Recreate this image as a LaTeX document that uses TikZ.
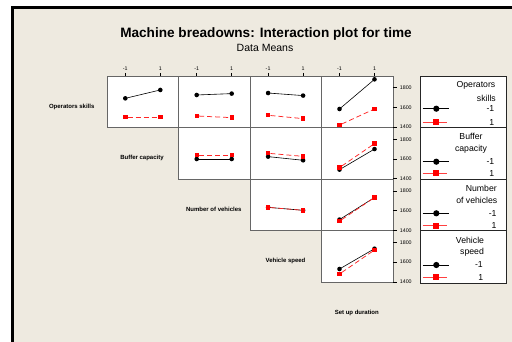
\documentclass[tikz,border=0pt]{standalone}
\usepackage{fontspec}
\setmainfont{Liberation Sans}
\definecolor{minibg}{HTML}{EEEAE0}

\tikzset{
	panel/.style={draw=black!60, line width=0.6pt, fill=white},
	legbox/.style={draw=black!85, line width=0.7pt, fill=white},
	lowlvl/.style={black, line width=0.6pt},
	highlvl/.style={red!85, line width=0.75pt, dash pattern=on 5pt off 3pt},
	dotmark/.style={circle, fill=black, inner sep=0pt, minimum size=4.6pt},
	sqmark/.style={rectangle, fill=red, inner sep=0pt, minimum size=4.4pt},
	rowlab/.style={font=\fontsize{6}{7}\selectfont\bfseries},
	ticklab/.style={font=\fontsize{5.3}{6}\selectfont},
	legtxt/.style={font=\fontsize{8.7}{10}\selectfont, inner sep=0pt},
}

\begin{document}
\begin{tikzpicture}[x=1pt,y=-1pt]
			\useasboundingbox (0,0) rectangle (512,342);
			\fill [minibg] (11,5.7) rectangle (512,342);
			\draw [line width=3pt] (12.5,342) -- (12.5,7.2) -- (512,7.2);
			% titles
			\node [anchor=base, font=\fontsize{13.6}{15}\selectfont\bfseries] (title) at (266,37.2) {Machine breadowns: Interaction plot for time};
			\node [anchor=base, font=\fontsize{10.5}{12}\selectfont] (subtitle) at (265,51.6) {Data Means};
			% panels
			\foreach \r in {1,...,4}
				\foreach \c in {\r,...,4}
					\draw [panel] ({107.3+71.4*(\c-1)},{76+51.6*(\r-1)}) rectangle ++(71.4,51.6);
			% top ticks
			\foreach \c in {1,...,4} {
				\draw [black, line width=0.6pt] ({107.3+71.4*(\c-1)+18},72.8) -- ++(0,3.2);
				\draw [black, line width=0.6pt] ({107.3+71.4*(\c-1)+53},72.8) -- ++(0,3.2);
				\node [ticklab] (tkm\c) at ({107.3+71.4*(\c-1)+18},68.3) {-1};
				\node [ticklab] (tkp\c) at ({107.3+71.4*(\c-1)+53},68.3) {1};
			}
			% right axis
			\foreach \r in {1,...,4}
				\foreach \v in {1400,1600,1800} {
					\draw [black, line width=0.6pt] (393,{76+51.6*\r-0.6-(\v-1400)*0.0985}) -- ++(3.5,0);
					\node [ticklab] (ax\r\v) at (405.8,{76+51.6*\r-0.6-(\v-1400)*0.0985}) {\v};
				}
			% interaction means
			\foreach \r/\c/\ba/\bb/\ra/\rb in {1/1/1691/1776/1502/1502, 1/2/1725/1739/1512/1495, 1/3/1745/1719/1519/1485, 1/4/1583/1884/1420/1583,
					2/2/1599/1599/1640/1640, 2/3/1623/1586/1657/1626, 2/4/1491/1700/1512/1755,
					3/3/1632/1602/1632/1602, 3/4/1508/1732/1492/1732,
					4/4/1530/1736/1479/1723} {
				\pgfmathsetmacro{\xa}{107.3+71.4*(\c-1)+18}
				\pgfmathsetmacro{\xb}{\xa+35}
				\pgfmathsetmacro{\yo}{76+51.6*\r-0.6}
				\node [dotmark] (blk\r\c a) at (\xa,{\yo-(\ba-1400)*0.0985}) {};
				\node [dotmark] (blk\r\c b) at (\xb,{\yo-(\bb-1400)*0.0985}) {};
				\draw [lowlvl] (blk\r\c a.center) -- (blk\r\c b.center);
				\node [sqmark] (red\r\c a) at (\xa,{\yo-(\ra-1400)*0.0985}) {};
				\node [sqmark] (red\r\c b) at (\xb,{\yo-(\rb-1400)*0.0985}) {};
				\draw [highlvl] (red\r\c a) -- (red\r\c b);
			}
			% row labels
			\node [rowlab] (opskill) at (71.7,106.7) {Operators skills};
			\node [rowlab] (buffcap) at (142,157.7) {Buffer capacity};
			\node [rowlab] (numveh) at (213.8,209.3) {Number of vehicles};
			\node [rowlab] (vehspd) at (285.5,261) {Vehicle speed};
			\node [rowlab] (setup) at (356.8,312.7) {Set up duration};
			% legends
			\draw [legbox] (420.5,76) rectangle (506,283.5);
			\foreach \y in {127.6,179.2,230.8}
				\draw [black!85, line width=0.7pt] (420.5,\y) -- (506,\y);
			\foreach \ya/\yb [count=\k] in {108.7/122.3, 161.7/173.3, 213.3/225.7, 265/277.3} {
				\draw [black, line width=0.8pt] (422.7,\ya) -- (449.3,\ya);
				\node [dotmark, minimum size=6.2pt] (lgb\k) at (436.3,\ya) {};
				\draw [red!75, line width=1pt] (422.7,\yb) -- (447,\yb);
				\node [sqmark, minimum size=6pt] (lgr\k) at (436.3,\yb) {};
			}
			\node [legtxt, anchor=east] (l1a) at (495.5,85) {Operators};
			\node [legtxt, anchor=east] (l1b) at (496,98.3) {skills};
			\node [legtxt, anchor=east] (l1c) at (494.5,108.7) {-1};
			\node [legtxt, anchor=east] (l1d) at (494.5,122.3) {1};
			\node [legtxt] (l2a) at (471,136.7) {Buffer};
			\node [legtxt] (l2b) at (471,149) {capacity};
			\node [legtxt, anchor=east] (l2c) at (494.5,161.7) {-1};
			\node [legtxt, anchor=east] (l2d) at (494.5,173.3) {1};
			\node [legtxt] (l3a) at (481.3,188.3) {Number};
			\node [legtxt] (l3b) at (476.8,200.7) {of vehicles};
			\node [legtxt, anchor=east] (l3c) at (496.7,213.3) {-1};
			\node [legtxt, anchor=east] (l3d) at (496.7,225.7) {1};
			\node [legtxt] (l4a) at (470,240) {Vehicle};
			\node [legtxt] (l4b) at (472,252.7) {speed};
			\node [legtxt, anchor=east] (l4c) at (483,265) {-1};
			\node [legtxt, anchor=east] (l4d) at (483.3,277.3) {1};
	\end{tikzpicture}
\end{document}
